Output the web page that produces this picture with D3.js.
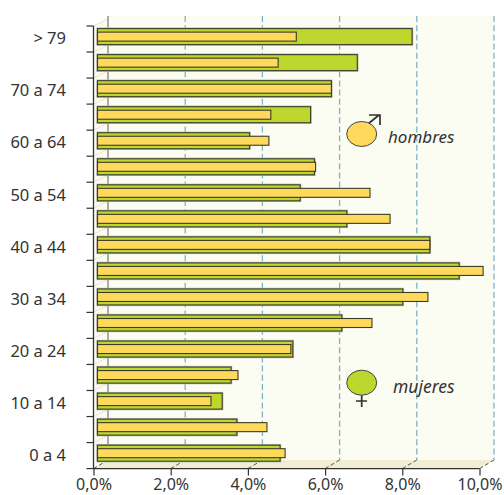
<!DOCTYPE html>
<html><head><meta charset="utf-8">
<script src="https://cdn.jsdelivr.net/npm/d3@7"></script>
<style>html,body{margin:0;padding:0;background:#fff}svg{display:block}text{font-family:"Noto Sans",sans-serif;fill:#333}</style>
</head><body><div id="c"></div>
<script>
const categories=["> 79","75 a 79","70 a 74","65 a 69","60 a 64","55 a 59","50 a 54","45 a 49","40 a 44","35 a 39","30 a 34","25 a 29","20 a 24","15 a 19","10 a 14","5 a 9","0 a 4"];
const shownLabels=["> 79","70 a 74","60 a 64","50 a 54","40 a 44","30 a 34","20 a 24","10 a 14","0 a 4"];
const mujeres=[8.15,6.73,6.06,5.52,3.94,5.62,5.25,6.46,8.61,9.37,7.91,6.33,5.06,3.46,3.23,3.61,4.73];
const hombres=[5.15,4.68,6.06,4.49,4.44,5.65,7.06,7.58,8.61,9.99,8.56,7.11,5.01,3.64,2.94,4.39,4.86];
const xTicks=[0,2,4,6,8,10];
(function(){
const W=504,H=495;
const svg=d3.select("#c").append("svg").attr("width",W).attr("height",H);
const x=d3.scaleLinear().domain([0,10]).range([93.5,479.5]);
const y=d3.scaleBand().domain(categories).range([26,468.6]).paddingInner(0).paddingOuter(0);
const dx=14.5,wallTop=16;
// walls
svg.append("rect").attr("x",x(0)+dx).attr("y",wallTop).attr("width",x(10)-x(0)).attr("height",460-wallTop).attr("fill","#fbfcf2");
svg.append("path").attr("d",`M${x(0)},26L${x(0)+dx},${wallTop}V460L${x(0)},468.6Z`).attr("fill","#fcfbf0");
svg.append("path").attr("d",`M${x(0)},468.6L${x(0)+dx},460H${x(10)+dx}L${x(10)},468.6Z`).attr("fill","#f0edd3");
// side wall lines
svg.append("g").selectAll("line").data(categories).join("line")
 .attr("x1",x(0)).attr("x2",x(0)+dx)
 .attr("y1",d=>y(d)).attr("y2",d=>y(d)-7).attr("stroke","#e6e5d6").attr("stroke-width",1);
// grid
svg.append("g").selectAll("line").data(xTicks).join("line")
 .attr("x1",d=>x(d)+dx).attr("x2",d=>x(d)+dx).attr("y1",wallTop).attr("y2",460)
 .attr("stroke",d=>d===0?"#777":"#7fb3c8").attr("stroke-width",d=>d===0?1.2:1.3)
 .attr("stroke-dasharray",d=>d===0?null:"6 3.2");
svg.append("g").selectAll("line").data(xTicks).join("line")
 .attr("x1",d=>x(d)).attr("x2",d=>x(d)+dx).attr("y1",468.6).attr("y2",460)
 .attr("stroke","#555").attr("stroke-width",1).attr("stroke-dasharray","4 2.5");
// bars
const off=4,shift=-2.4;
const g=svg.append("g");
g.selectAll("rect.ms").data(categories).join("rect").attr("class","ms")
 .attr("x",x(0)+off).attr("y",d=>y(d)+y.bandwidth()/2+shift-8)
 .attr("width",(d,i)=>x(mujeres[i])-x(0)).attr("height",16)
 .attr("fill","none").attr("stroke","#bbb").attr("stroke-width",2.4);
g.selectAll("rect.m").data(categories).join("rect").attr("class","m")
 .attr("x",x(0)+off).attr("y",d=>y(d)+y.bandwidth()/2+shift-8)
 .attr("width",(d,i)=>x(mujeres[i])-x(0)).attr("height",16)
 .attr("fill","#bdd72e").attr("stroke","#3c3c28").attr("stroke-width",1.1);
g.selectAll("rect.h").data(categories).join("rect").attr("class","h")
 .attr("x",x(0)+off).attr("y",d=>y(d)+y.bandwidth()/2+shift-4.5)
 .attr("width",(d,i)=>x(hombres[i])-x(0)).attr("height",9)
 .attr("fill","#ffd95c").attr("stroke","#3c3c28").attr("stroke-width",1.1);
// axes
const ax=svg.append("g").attr("transform","translate(0,468.6)")
 .call(d3.axisBottom(x).tickValues(xTicks).tickSize(7).tickFormat(d=>d3.format(".1f")(d).replace(".",",")+"%"));
ax.select(".domain").attr("d",`M${x(0)},0H${x(10)}`).attr("stroke","#333").attr("stroke-width",1.3);
ax.selectAll(".tick line").attr("y1",0).attr("y2",7).attr("stroke","#333").attr("stroke-width",1.2);
ax.selectAll("text").attr("y",10).style("font-size","16px").attr("fill","#333");
const ay=svg.append("g").attr("transform",`translate(${x(0)},0)`);
ay.append("line").attr("y1",26).attr("y2",468.6).attr("stroke","#333").attr("stroke-width",1.3);
ay.selectAll("line.t").data(categories.concat(["end"])).join("line").attr("class","t")
 .attr("x1",-7).attr("x2",0)
 .attr("y1",(d,i)=>26+i*y.bandwidth()).attr("y2",(d,i)=>26+i*y.bandwidth())
 .attr("stroke","#333").attr("stroke-width",1.2);
ay.selectAll("text").data(shownLabels).join("text")
 .attr("x",-27.5).attr("y",d=>y(d)+y.bandwidth()/2-0.5).attr("dy","0.35em")
 .attr("text-anchor","end").style("font-size","16.5px").text(d=>d);
// legend
const lg=svg.append("g");
lg.append("path").attr("d","M368,124L379,115M369,115H380V125").attr("fill","none").attr("stroke","#333").attr("stroke-width",1.7);
lg.append("ellipse").attr("cx",361.7).attr("cy",134).attr("rx",15).attr("ry",12.5).attr("fill","#ffd95c").attr("stroke","#444");
lg.append("text").attr("x",388).attr("y",142.7).style("font-size","17px").style("font-style","italic").text("hombres");
lg.append("path").attr("d","M361.7,395V407M356,401H367").attr("fill","none").attr("stroke","#333").attr("stroke-width",1.7);
lg.append("ellipse").attr("cx",361.7).attr("cy",382.7).attr("rx",15).attr("ry",12.5).attr("fill","#bdd72e").attr("stroke","#444");
lg.append("text").attr("x",393).attr("y",392.7).style("font-size","17.5px").style("font-style","italic").text("mujeres");
})();
</script></body></html>
